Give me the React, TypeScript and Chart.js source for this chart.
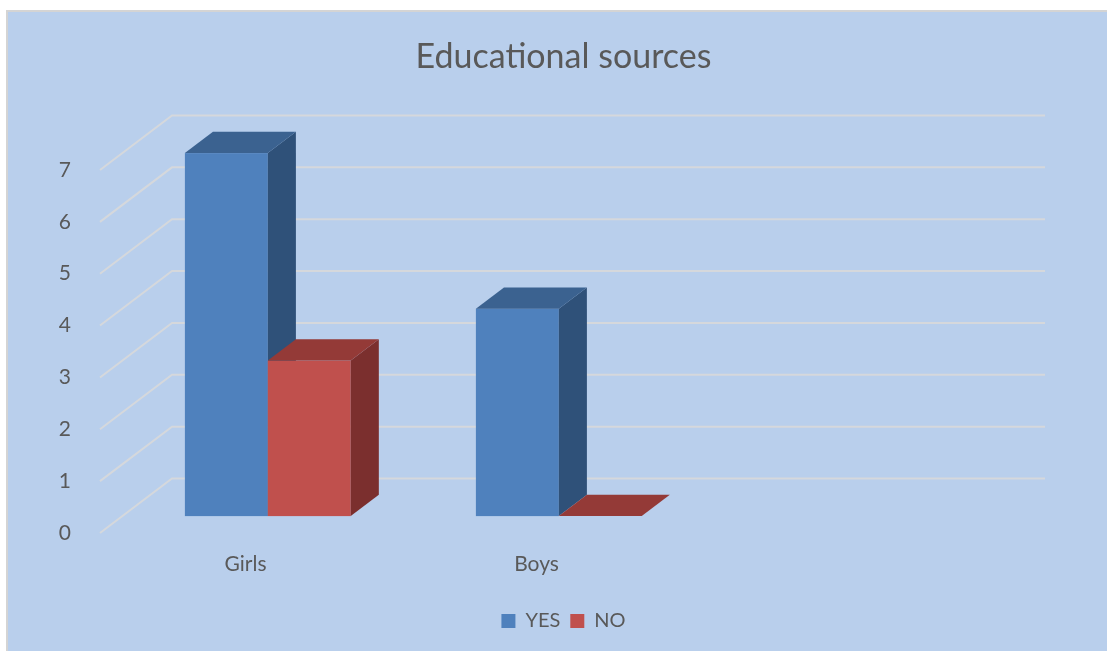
import React, { useEffect, useRef } from "react";
import { Chart, registerables } from "chart.js";

Chart.register(...registerables);

const categories = ["Girls", "Boys", ""];
const yesValues: (number | null)[] = [7, 4, null];
const noValues: (number | null)[] = [3, 0, null];
const seriesNames = ["YES", "NO"];
const yTicks = [0, 1, 2, 3, 4, 5, 6, 7];

const BG = "#B9CFEC";
const TEXT = "#595959";
const GRID = "#D5D8DC";
const FRONT = ["#4F81BD", "#C0504D"];
const SIDE = ["#2F5179", "#7B2F2E"];
const TOP = ["#3B6290", "#943A37"];

// pseudo-3D depth (pixels of full floor depth)
const DX = 72;
const DY = -54.5;
const F_FRONT = 0.31;
const F_BACK = 0.70;

const threeD = {
  id: "threeD",
  beforeDatasetsDraw(chart: any) {
    const ctx = chart.ctx;
    const area = chart.chartArea;
    const ys = chart.scales.y;
    ctx.save();
    ctx.strokeStyle = GRID;
    ctx.lineWidth = 2;
    for (const v of yTicks) {
      const y = ys.getPixelForValue(v);
      ctx.beginPath();
      ctx.moveTo(area.left, y);
      ctx.lineTo(area.left + DX, y + DY);
      ctx.lineTo(area.right + DX, y + DY);
      ctx.stroke();
    }
    const fx = F_FRONT * DX, fy = F_FRONT * DY;
    const bx = F_BACK * DX, by = F_BACK * DY;
    const datasets = [yesValues, noValues];
    const nCat = categories.length;
    for (let c = 0; c < nCat; c++) {
      for (let d = 0; d < datasets.length; d++) {
        const val = datasets[d][c];
        if (val === null || val === undefined) continue;
        const el: any = chart.getDatasetMeta(d).data[c];
        if (!el) continue;
        const xl = el.x - el.width / 2;
        const xr = el.x + el.width / 2;
        const yt = Math.min(el.y, el.base);
        const yb = Math.max(el.y, el.base);
        ctx.fillStyle = FRONT[d];
        ctx.fillRect(xl + fx, yt + fy, xr - xl, yb - yt);
        ctx.fillStyle = SIDE[d];
        ctx.beginPath();
        ctx.moveTo(xr + fx, yt + fy);
        ctx.lineTo(xr + bx, yt + by);
        ctx.lineTo(xr + bx, yb + by);
        ctx.lineTo(xr + fx, yb + fy);
        ctx.closePath();
        ctx.fill();
        ctx.fillStyle = TOP[d];
        ctx.beginPath();
        ctx.moveTo(xl + fx, yt + fy);
        ctx.lineTo(xl + bx, yt + by);
        ctx.lineTo(xr + bx, yt + by);
        ctx.lineTo(xr + fx, yt + fy);
        ctx.closePath();
        ctx.fill();
      }
    }
    ctx.restore();
    return false;
  },
};

export default function App() {
  const ref = useRef<HTMLCanvasElement | null>(null);
  useEffect(() => {
    if (!ref.current) return;
    const chart = new Chart(ref.current, {
      type: "bar",
      data: {
        labels: categories,
        datasets: [
          { label: seriesNames[0], data: yesValues, backgroundColor: FRONT[0], borderWidth: 0 },
          { label: seriesNames[1], data: noValues, backgroundColor: FRONT[1], borderWidth: 0 },
        ],
      },
      options: {
        animation: false,
        responsive: true,
        maintainAspectRatio: false,
        layout: { padding: { left: 12, right: 0, top: 0, bottom: 10 } },
        datasets: { bar: { categoryPercentage: 0.57, barPercentage: 1 } },
        plugins: {
          title: {
            display: true,
            text: "Educational sources",
            color: TEXT,
            font: { family: "Lato", size: 34, weight: "normal" },
            padding: { top: 25, bottom: 92.2 },
          },
          legend: {
            position: "bottom",
            labels: {
              color: TEXT,
              font: { family: "Lato", size: 20 },
              boxWidth: 14,
              boxHeight: 14,
              padding: 10,
            },
          },
          tooltip: { enabled: false },
        },
        scales: {
          x: {
            grid: { display: false },
            border: { display: false },
            ticks: { color: TEXT, font: { family: "Lato", size: 21 }, padding: 11, maxRotation: 0 },
            afterFit: (s: any) => { s.height = 68; },
          },
          y: {
            min: 0,
            max: 7,
            grid: { display: false },
            border: { display: false },
            ticks: { stepSize: 1, color: TEXT, font: { family: "Lato", size: 21 }, padding: 21 },
            afterFit: (s: any) => { s.width = 80; },
          },
          yR: {
            position: "right",
            display: true,
            grid: { display: false },
            border: { display: false },
            ticks: { display: false },
            afterFit: (s: any) => { s.width = 134; },
          },
        },
      },
      plugins: [threeD],
    });
    return () => chart.destroy();
  }, []);

  return (
    <div
      style={{
        position: "fixed",
        left: 6,
        top: 10,
        right: 0,
        bottom: 0,
        borderTop: "2px solid #D4D4D4",
        borderLeft: "2px solid #D4D4D4",
        background: BG,
      }}
    >
      <canvas ref={ref} />
    </div>
  );
}
